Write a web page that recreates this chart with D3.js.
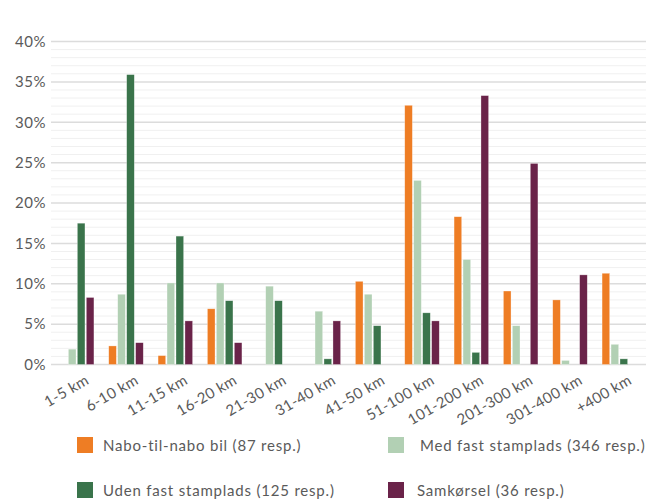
<!DOCTYPE html>
<html>
<head>
<meta charset="utf-8">
<script src="https://cdn.jsdelivr.net/npm/d3@7"></script>
<style>
  body { margin: 0; background: #fff; }
  text { font-family: Lato, "Open Sans", sans-serif; fill: #5a5a5a; }
</style>
</head>
<body>
<svg width="648" height="499"></svg>
<script>
var categories = ["1-5 km", "6-10 km", "11-15 km", "16-20 km", "21-30 km", "31-40 km",
                  "41-50 km", "51-100 km", "101-200 km", "201-300 km", "301-400 km", "+400 km"];
var seriesNames = ["Nabo-til-nabo bil (87 resp.)", "Med fast stamplads (346 resp.)",
                   "Uden fast stamplads (125 resp.)", "Samkørsel (36 resp.)"];
var nabo   = [0, 2.3, 1.1, 6.9, 0, 0, 10.3, 32.1, 18.3, 9.1, 8.0, 11.3];
var medFast = [1.9, 8.7, 10.1, 10.1, 9.7, 6.6, 8.7, 22.8, 13.0, 4.8, 0.5, 2.5];
var udenFast = [17.5, 35.9, 15.9, 7.9, 7.9, 0.7, 4.8, 6.4, 1.5, 0, 0, 0.7];
var samkorsel = [8.3, 2.7, 5.4, 2.7, 0, 5.4, 0, 5.4, 33.3, 24.9, 11.1, 0];
var yTicks = [0, 5, 10, 15, 20, 25, 30, 35, 40];
var colors = ["#ee7d24", "#b2d0b4", "#3a744b", "#6a2349"];

var series = [nabo, medFast, udenFast, samkorsel];
var svg = d3.select("svg");

var x = d3.scaleBand().domain(categories).range([52, 644]).paddingInner(0.3).paddingOuter(0.15);
var x1 = d3.scaleBand().domain(d3.range(4)).range([0, x.bandwidth()]).paddingInner(0.15);
var y = d3.scaleLinear().domain([0, 40]).range([364.5, 41.5]);

// minor gridlines every 1%
svg.append("g").selectAll("line")
    .data(d3.range(0, 41).filter(function(d) { return d % 5 != 0; }))
    .enter().append("line")
    .attr("x1", 51).attr("x2", 646)
    .attr("y1", function(d) { return y(d); }).attr("y2", function(d) { return y(d); })
    .attr("stroke", "#f0f0f0").attr("stroke-width", 1);

svg.append("g").selectAll("line")
    .data(yTicks)
    .enter().append("line")
    .attr("x1", 51).attr("x2", 646)
    .attr("y1", function(d) { return y(d); }).attr("y2", function(d) { return y(d); })
    .attr("stroke", "#dcdcdc").attr("stroke-width", 1.5);

svg.append("g").selectAll("text")
    .data(yTicks)
    .enter().append("text")
    .attr("x", 46).attr("y", function(d) { return y(d); })
    .attr("dy", "0.35em").attr("text-anchor", "end")
    .style("font-size", "15px").style("letter-spacing", "0.5px")
    .text(function(d) { return d + "%"; });

for (var s = 0; s < series.length; s++) {
    svg.append("g").selectAll("rect")
	.data(series[s])
	.enter().append("rect")
	.attr("x", function(d, i) { return x(categories[i]) + x1(s); })
	.attr("width", x1.bandwidth())
	.attr("y", function(d) { return y(d); })
	.attr("height", function(d) { return y(0) - y(d); })
	.attr("fill", colors[s])
	.attr("stroke", "rgba(255,255,255,0.5)").attr("stroke-width", 0.6);
}

svg.append("g").selectAll("text")
    .data(categories)
    .enter().append("text")
    .attr("transform", function(d) {
	return "translate(" + (x(d) + x.bandwidth() / 2 + 8) + ",374) rotate(-30)";
    })
    .attr("dy", "0.71em").attr("text-anchor", "end")
    .style("font-size", "15px").style("letter-spacing", "0.3px")
    .text(function(d) { return d; });

var legendPos = [[77, 437], [388, 437], [77, 482], [388, 482]];
var legendTextX = [103, 420, 103, 417];
for (var i = 0; i < seriesNames.length; i++) {
    svg.append("rect")
	.attr("x", legendPos[i][0]).attr("y", legendPos[i][1])
	.attr("width", 16).attr("height", 16)
	.attr("fill", colors[i]);
    svg.append("text")
	.attr("x", legendTextX[i]).attr("y", legendPos[i][1] + 14)
	.style("font-size", "15px").style("letter-spacing", "0.8px")
	.text(seriesNames[i]);
}
</script>
</body>
</html>
